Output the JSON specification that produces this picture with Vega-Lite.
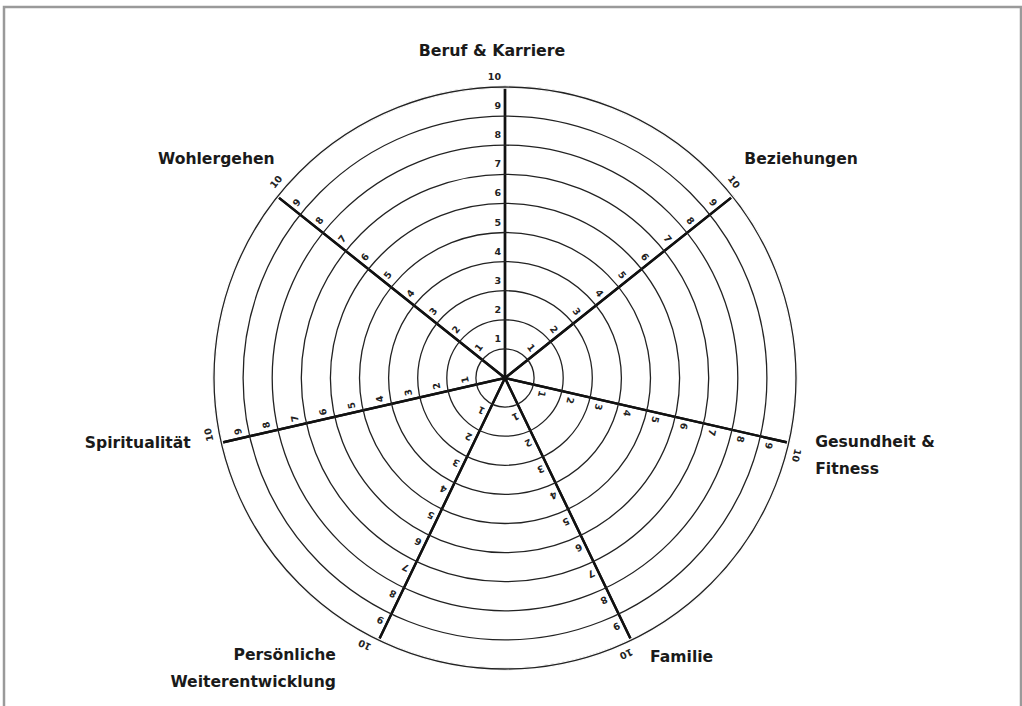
{
  "$schema": "https://vega.github.io/schema/vega-lite/v6.json",
  "width": 1022,
  "height": 706,
  "autosize": "none",
  "padding": 0,
  "background": "white",
  "config": {"view": {"stroke": null}},
  "datasets": {
    "spokes": [
      {"i": 0, "w": 1, "label": "Beruf & Karriere", "n": [1,2,3,4,5,6,7,8,9,10]},
      {"i": 1, "w": 1, "label": "Beziehungen", "n": [1,2,3,4,5,6,7,8,9,10]},
      {"i": 2, "w": 1, "label": ["Gesundheit &", "Fitness"], "n": [1,2,3,4,5,6,7,8,9,10]},
      {"i": 3, "w": 1, "label": "Familie", "n": [1,2,3,4,5,6,7,8,9,10]},
      {"i": 4, "w": 1, "label": ["Persönliche", "Weiterentwicklung"], "n": [1,2,3,4,5,6,7,8,9,10]},
      {"i": 5, "w": 1, "label": "Spiritualität", "n": [1,2,3,4,5,6,7,8,9,10]},
      {"i": 6, "w": 1, "label": "Wohlergehen", "n": [1,2,3,4,5,6,7,8,9,10]}
    ],
    "rings": [{"r": 1},{"r": 2},{"r": 3},{"r": 4},{"r": 5},{"r": 6},{"r": 7},{"r": 8},{"r": 9},{"r": 10}]
  },
  "encoding": {
    "x": {"datum": 0, "type": "quantitative", "scale": {"domain": [-505, 517], "nice": false, "zero": false}, "axis": null},
    "y": {"datum": 0, "type": "quantitative", "scale": {"domain": [-328, 378], "nice": false, "zero": false}, "axis": null}
  },
  "layer": [
    {
      "data": {"values": [{}]},
      "mark": {"type": "rect", "filled": false, "stroke": "#9a9a9a", "strokeWidth": 2.5},
      "encoding": {
        "x": {"datum": -501, "type": "quantitative"},
        "x2": {"datum": 516},
        "y": {"datum": 371, "type": "quantitative"},
        "y2": {"datum": -345}
      }
    },
    {
      "data": {"name": "spokes"},
      "mark": {"type": "arc", "filled": false, "stroke": "#111111", "strokeWidth": 2.4},
      "encoding": {
        "theta": {"field": "w", "type": "quantitative", "stack": true, "scale": {"domain": [0, 7]}},
        "radius": {"datum": 10, "type": "quantitative", "stack": null, "scale": {"type": "linear", "domain": [0, 10], "range": [0, 291], "zero": true}}
      }
    },
    {
      "data": {"values": [{}]},
      "mark": {"type": "arc", "filled": false, "stroke": "white", "strokeWidth": 3.6, "theta": 0, "theta2": 6.2832},
      "encoding": {
        "radius": {"datum": 10, "type": "quantitative", "stack": null, "scale": {"type": "linear", "domain": [0, 10], "range": [0, 291], "zero": true}}
      }
    },
    {
      "data": {"name": "rings"},
      "mark": {"type": "arc", "filled": false, "stroke": "#222222", "strokeWidth": 1.3, "theta": 0, "theta2": 6.2832},
      "encoding": {
        "radius": {"field": "r", "type": "quantitative", "stack": null, "scale": {"type": "linear", "domain": [0, 10], "range": [0, 291], "zero": true}}
      }
    },
    {
      "data": {"name": "spokes"},
      "transform": [{"filter": "datum.i <= 1"}, {"flatten": ["n"]}],
      "mark": {"type": "text", "font": "DejaVu Sans", "fontWeight": "bold", "fontSize": 9.5, "color": "#222222", "align": "right", "baseline": "middle", "dx": -4, "dy": -10},
      "encoding": {
        "theta": {"field": "i", "type": "quantitative", "stack": null, "scale": {"domain": [0, 7]}},
        "radius": {"field": "n", "type": "quantitative", "stack": null, "scale": {"type": "linear", "domain": [0, 10], "range": [0, 291], "zero": true}},
        "angle": {"field": "i", "type": "quantitative", "scale": {"domain": [0, 7], "range": [0, 360]}},
        "text": {"field": "n", "type": "nominal"}
      }
    },
    {
      "data": {"name": "spokes"},
      "transform": [{"filter": "datum.i >= 2"}, {"flatten": ["n"]}],
      "mark": {"type": "text", "font": "DejaVu Sans", "fontWeight": "bold", "fontSize": 9.5, "color": "#222222", "align": "left", "baseline": "middle", "dx": 4, "dy": -10},
      "encoding": {
        "theta": {"field": "i", "type": "quantitative", "stack": null, "scale": {"domain": [0, 7]}},
        "radius": {"field": "n", "type": "quantitative", "stack": null, "scale": {"type": "linear", "domain": [0, 10], "range": [0, 291], "zero": true}},
        "angle": {"field": "i", "type": "quantitative", "scale": {"domain": [0, 7], "range": [0, 360]}},
        "text": {"field": "n", "type": "nominal"}
      }
    },
    {
      "data": {"name": "spokes"},
      "transform": [{"filter": "datum.i == 0"}],
      "mark": {"type": "text", "font": "DejaVu Sans", "fontWeight": "bold", "fontSize": 15.8, "color": "#1a1a1a", "align": "center", "baseline": "middle", "dx": -13, "dy": -27},
      "encoding": {
        "theta": {"field": "i", "type": "quantitative", "stack": null, "scale": {"domain": [0, 7]}},
        "radius": {"datum": 10.3, "type": "quantitative", "stack": null, "scale": {"type": "linear", "domain": [0, 10], "range": [0, 291], "zero": true}},
        "text": {"field": "label", "type": "nominal"}
      }
    },
    {
      "data": {"name": "spokes"},
      "transform": [{"filter": "datum.i == 1"}],
      "mark": {"type": "text", "font": "DejaVu Sans", "fontWeight": "bold", "fontSize": 15.6, "color": "#1a1a1a", "align": "left", "baseline": "middle", "dx": 5, "dy": -32},
      "encoding": {
        "theta": {"field": "i", "type": "quantitative", "stack": null, "scale": {"domain": [0, 7]}},
        "radius": {"datum": 10.3, "type": "quantitative", "stack": null, "scale": {"type": "linear", "domain": [0, 10], "range": [0, 291], "zero": true}},
        "text": {"field": "label", "type": "nominal"}
      }
    },
    {
      "data": {"name": "spokes"},
      "transform": [{"filter": "datum.i == 2"}],
      "mark": {"type": "text", "font": "DejaVu Sans", "fontWeight": "bold", "fontSize": 15.6, "color": "#1a1a1a", "align": "left", "baseline": "alphabetic", "lineHeight": 27, "dx": 18, "dy": 2},
      "encoding": {
        "theta": {"field": "i", "type": "quantitative", "stack": null, "scale": {"domain": [0, 7]}},
        "radius": {"datum": 10.3, "type": "quantitative", "stack": null, "scale": {"type": "linear", "domain": [0, 10], "range": [0, 291], "zero": true}},
        "text": {"field": "label", "type": "nominal"}
      }
    },
    {
      "data": {"name": "spokes"},
      "transform": [{"filter": "datum.i == 3"}],
      "mark": {"type": "text", "font": "DejaVu Sans", "fontWeight": "bold", "fontSize": 15.6, "color": "#1a1a1a", "align": "left", "baseline": "middle", "dx": 15, "dy": 9},
      "encoding": {
        "theta": {"field": "i", "type": "quantitative", "stack": null, "scale": {"domain": [0, 7]}},
        "radius": {"datum": 10.3, "type": "quantitative", "stack": null, "scale": {"type": "linear", "domain": [0, 10], "range": [0, 291], "zero": true}},
        "text": {"field": "label", "type": "nominal"}
      }
    },
    {
      "data": {"name": "spokes"},
      "transform": [{"filter": "datum.i == 4"}],
      "mark": {"type": "text", "font": "DejaVu Sans", "fontWeight": "bold", "fontSize": 15.6, "color": "#1a1a1a", "align": "right", "baseline": "alphabetic", "lineHeight": 27, "dx": -39, "dy": 12},
      "encoding": {
        "theta": {"field": "i", "type": "quantitative", "stack": null, "scale": {"domain": [0, 7]}},
        "radius": {"datum": 10.3, "type": "quantitative", "stack": null, "scale": {"type": "linear", "domain": [0, 10], "range": [0, 291], "zero": true}},
        "text": {"field": "label", "type": "nominal"}
      }
    },
    {
      "data": {"name": "spokes"},
      "transform": [{"filter": "datum.i == 5"}],
      "mark": {"type": "text", "font": "DejaVu Sans", "fontWeight": "bold", "fontSize": 15.6, "color": "#1a1a1a", "align": "right", "baseline": "middle", "dx": -22, "dy": -2},
      "encoding": {
        "theta": {"field": "i", "type": "quantitative", "stack": null, "scale": {"domain": [0, 7]}},
        "radius": {"datum": 10.3, "type": "quantitative", "stack": null, "scale": {"type": "linear", "domain": [0, 10], "range": [0, 291], "zero": true}},
        "text": {"field": "label", "type": "nominal"}
      }
    },
    {
      "data": {"name": "spokes"},
      "transform": [{"filter": "datum.i == 6"}],
      "mark": {"type": "text", "font": "DejaVu Sans", "fontWeight": "bold", "fontSize": 15.6, "color": "#1a1a1a", "align": "right", "baseline": "middle", "dx": 4, "dy": -32},
      "encoding": {
        "theta": {"field": "i", "type": "quantitative", "stack": null, "scale": {"domain": [0, 7]}},
        "radius": {"datum": 10.3, "type": "quantitative", "stack": null, "scale": {"type": "linear", "domain": [0, 10], "range": [0, 291], "zero": true}},
        "text": {"field": "label", "type": "nominal"}
      }
    }
  ]
}
